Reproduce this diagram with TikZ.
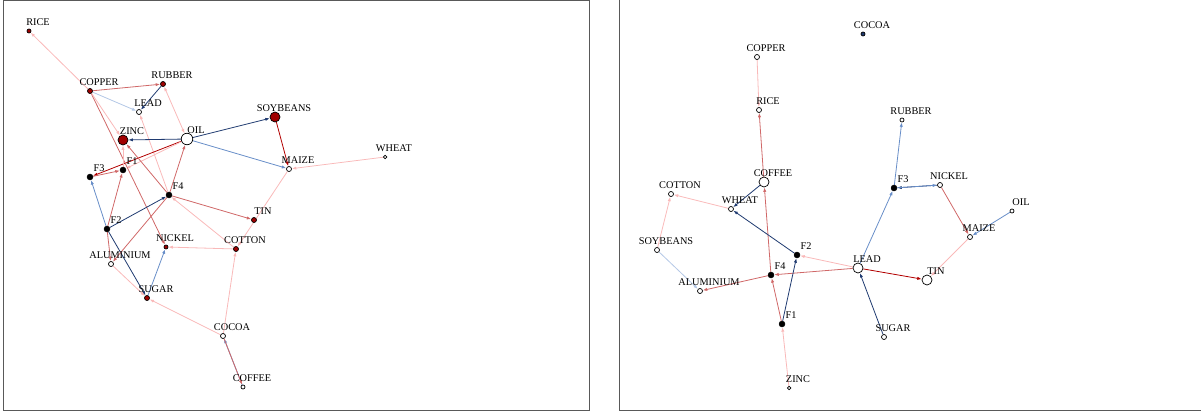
\documentclass[tikz,border=0pt]{standalone}
\usepackage{fontspec}
\setmainfont{Liberation Serif}
\usetikzlibrary{arrows.meta,backgrounds}

\definecolor{navy}{RGB}{31,58,112}
\definecolor{midblue}{RGB}{104,142,200}
\definecolor{paleblue}{RGB}{180,200,230}
\definecolor{deepred}{RGB}{178,0,0}
\definecolor{midred}{RGB}{208,104,104}
\definecolor{palered}{RGB}{249,185,185}
\definecolor{nodered}{RGB}{160,0,0}

\tikzset{
  >={Latex[length=4.5pt,width=3.2pt]},
  lbl/.style={anchor=base, xshift=9pt, yshift=9pt, inner sep=0pt, font=\fontsize{10.3}{11}\selectfont},
  com/.style={circle, draw=black, line width=0.7pt, inner sep=0pt},
  fac/.style={circle, fill=black, draw=black, inner sep=0pt, minimum size=6pt},
  edge/.style={line width=0.8pt, ->},
  bluehi/.style={edge, draw=navy},
  bluemid/.style={edge, draw=midblue},
  bluelo/.style={edge, draw=paleblue},
  redhi/.style={edge, draw=deepred},
  redmid/.style={edge, draw=midred},
  redlo/.style={edge, draw=palered},
  frame/.style={draw=black!65, line width=1pt}
}

% commodity vertex: name, position, size, fill, text
\newcommand{\vtx}[5]{%
  \node[com, minimum size=#3, fill=#4, label={[lbl]center:#5}] (#1) at (#2) {};}
% factor vertex: name, position, text
\newcommand{\fvtx}[3]{%
  \node[fac, label={[lbl]center:#3}] (#1) at (#2) {};}

\begin{document}
\begin{tikzpicture}[x=1pt, y=-1pt]% [ show background grid ]
    \useasboundingbox (0,0) rectangle (1201,414);

    \draw[frame] (3,1) rectangle (589,410);
    \draw[frame] (619,0) -- (619,410) -- (1201,410);

    % left network
    \vtx{rice}{29,31}{4pt}{nodered}{RICE}
    \vtx{copper}{90,91}{5pt}{nodered}{COPPER}
    \vtx{rubber}{163,84}{5pt}{nodered}{RUBBER}
    \vtx{lead}{139,112}{5pt}{white}{LEAD}
    \vtx{soy}{275,117}{10pt}{nodered}{SOYBEANS}
    \vtx{zinc}{123,140}{10pt}{nodered}{ZINC}
    \vtx{oil}{187,139}{11.5pt}{white}{OIL}
    \vtx{maize}{289,169}{5pt}{white}{MAIZE}
    \vtx{wheat}{385,157}{3.5pt}{white}{WHEAT}
    \vtx{tin}{254,220}{5pt}{nodered}{TIN}
    \vtx{cotton}{236,249}{5pt}{nodered}{COTTON}
    \vtx{nickel}{166,247}{4pt}{nodered}{NICKEL}
    \vtx{alum}{111,264}{5pt}{white}{ALUMINIUM}
    \vtx{sugar}{147,298}{5pt}{nodered}{SUGAR}
    \vtx{cocoa}{223,336}{5pt}{white}{COCOA}
    \vtx{coffee}{243,387}{4pt}{white}{COFFEE}
    \fvtx{fone}{123,170}{F1}
    \fvtx{ftwo}{107,229}{F2}
    \fvtx{fthree}{90,177}{F3}
    \fvtx{ffour}{169,195}{F4}

    \begin{pgfonlayer}{background}
    \draw[redlo] (copper) -- (rice);
    \draw[redmid] (copper) -- (rubber);
    \draw[bluelo] (copper) -- (lead);
    \draw[bluehi] (rubber) -- (lead);
    \draw[redlo, <->] (rubber) -- (oil);
    \draw[redlo] (ffour) -- (lead);
    \draw[bluehi] (oil) -- (zinc);
    \draw[bluehi] (oil) -- (soy);
    \draw[bluemid] (oil) -- (maize);
    \draw[redhi] (soy) -- (maize);
    \draw[redlo] (wheat) -- (maize);
    \draw[redhi] (oil) -- (fthree);
    \draw[redlo] (oil) -- (fone);
    \draw[redmid] (fthree) -- (fone);
    \draw[redmid] (copper) -- (nickel);
    \draw[redlo] (copper) -- (zinc);
    \draw[redmid] (ffour) -- (zinc);
    \draw[redmid] (ffour) -- (oil);
    \draw[redmid] (ffour) -- (tin);
    \draw[redlo] (cotton) -- (ffour);
    \draw[redlo] (cotton) -- (nickel);
    \draw[redlo] (maize) -- (cotton);
    \draw[redlo] (cocoa) -- (cotton);
    \draw[redlo] (cocoa) -- (sugar);
    \draw[bluemid] (coffee) -- (cocoa);
    \draw[redmid] (cocoa) -- (coffee);
    \draw[bluemid] (sugar) -- (nickel);
    \draw[bluehi] (ftwo) -- (sugar);
    \draw[bluehi] (ftwo) -- (ffour);
    \draw[bluemid] (ftwo) -- (fthree);
    \draw[redmid] (ftwo) -- (fone);
    \draw[redmid] (ftwo) -- (alum);
    \draw[redmid] (ffour) -- (alum);
    \draw[redlo] (alum) -- (sugar);
    \draw[redlo] (fone) -- (zinc);
    \end{pgfonlayer}

    % right network
    \vtx{cocoaR}{863,34}{4pt}{navy}{COCOA}
    \vtx{copperR}{757,57}{5pt}{white}{COPPER}
    \vtx{riceR}{759,110}{5pt}{white}{RICE}
    \vtx{rubberR}{902,120}{4pt}{white}{RUBBER}
    \vtx{coffeeR}{764,182}{10pt}{white}{COFFEE}
    \vtx{cottonR}{671,194}{5pt}{white}{COTTON}
    \vtx{wheatR}{731,209}{5pt}{white}{WHEAT}
    \vtx{nickelR}{940,185}{5pt}{white}{NICKEL}
    \vtx{oilR}{1012,211}{4pt}{white}{OIL}
    \vtx{maizeR}{970,237}{5pt}{white}{MAIZE}
    \vtx{soyR}{657,250}{5pt}{white}{SOYBEANS}
    \vtx{leadR}{858,268}{10pt}{white}{LEAD}
    \vtx{tinR}{927,280}{10pt}{white}{TIN}
    \vtx{alumR}{700,291}{5pt}{white}{ALUMINIUM}
    \vtx{sugarR}{884,337}{5pt}{white}{SUGAR}
    \vtx{zincR}{789,388}{3.5pt}{white}{ZINC}
    \fvtx{foneR}{782,324}{F1}
    \fvtx{ftwoR}{797,255}{F2}
    \fvtx{fthreeR}{894,188}{F3}
    \fvtx{ffourR}{771,275}{F4}

    \begin{pgfonlayer}{background}
    \draw[redlo] (copperR) -- (riceR);
    \draw[redmid] (coffeeR) -- (riceR);
    \draw[redmid] (ffourR) -- (coffeeR);
    \draw[bluehi] (coffeeR) -- (wheatR);
    \draw[redlo] (wheatR) -- (cottonR);
    \draw[bluehi] (ftwoR) -- (wheatR);
    \draw[redlo] (soyR) -- (cottonR);
    \draw[bluelo] (soyR) -- (alumR);
    \draw[redmid] (ffourR) -- (alumR);
    \draw[redmid] (leadR) -- (ffourR);
    \draw[redlo] (leadR) -- (ftwoR);
    \draw[bluehi] (foneR) -- (ftwoR);
    \draw[redmid] (foneR) -- (ffourR);
    \draw[redlo] (zincR) -- (foneR);
    \draw[bluehi] (sugarR) -- (leadR);
    \draw[redhi] (leadR) -- (tinR);
    \draw[bluemid] (leadR) -- (fthreeR);
    \draw[bluemid] (fthreeR) -- (rubberR);
    \draw[bluehi] (nickelR) -- (fthreeR);
    \draw[bluemid] (fthreeR) -- (nickelR);
    \draw[redmid] (nickelR) -- (maizeR);
    \draw[bluemid] (oilR) -- (maizeR);
    \draw[redlo] (maizeR) -- (tinR);
    \end{pgfonlayer}
\end{tikzpicture}
\end{document}
